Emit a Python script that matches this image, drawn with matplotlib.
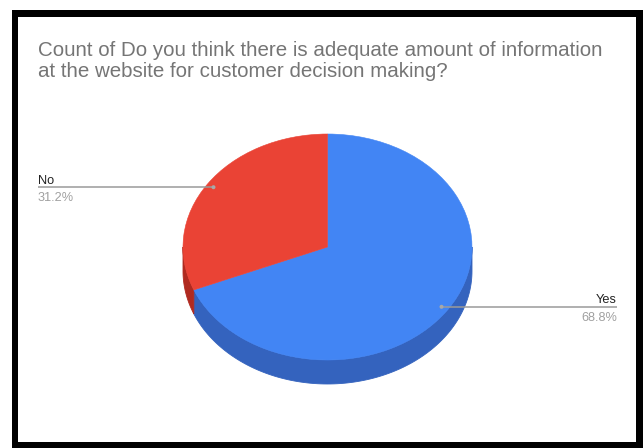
import numpy as np
import matplotlib
matplotlib.use("Agg")
import matplotlib.pyplot as plt
from matplotlib.patches import Wedge, Polygon, Rectangle, Circle
from matplotlib.transforms import Affine2D

# ---- data ----
title_lines = [
    "Count of Do you think there is adequate amount of information",
    "at the website for customer decision making?",
]
categories = ["Yes", "No"]
shares = [68.8, 31.2]
top_colors = ["#4285F4", "#EA4335"]
side_colors = ["#3463BE", "#B02A20"]

# ---- canvas (pixel coordinates, y down) ----
W, H = 643, 448
fig = plt.figure(figsize=(W / 100, H / 100), dpi=100)
ax = fig.add_axes([0, 0, 1, 1])
ax.set_xlim(0, W)
ax.set_ylim(H, 0)
ax.axis("off")

# black frame around the chart card
ax.add_patch(Rectangle((12, 10), W, H, facecolor="black", edgecolor="none", zorder=0))
ax.add_patch(Rectangle((18, 17), 636 - 18, 442 - 17, facecolor="white",
                       edgecolor="none", zorder=0.5))

FONT = "Liberation Sans"

# title
for txt, base in zip(title_lines, [56, 77]):
    ax.text(38, base, txt, fontsize=14.8, color="#757575", family=FONT,
            ha="left", va="baseline", zorder=5)

# ---- tilted pie geometry ----
cx, cy = 327.5, 247.0
rx, ry = 144.5, 113.0
depth = 24.0
unit_to_px = Affine2D().scale(rx, -ry).translate(cx, cy) + ax.transData

# slice angle ranges: start at 12 o'clock, go clockwise
ranges = []
start = 90.0
for s in shares:
    end = start - 360.0 * s / 100.0
    ranges.append((end, start))
    start = end


def ellipse_pts(t_deg, dy=0.0):
    t = np.radians(t_deg)
    return np.column_stack([cx + rx * np.cos(t), cy - ry * np.sin(t) + dy])


# visible side walls (front half of the disc)
for (a, b), col in zip(ranges, side_colors):
    for k in (-360.0, 0.0, 360.0):
        lo, hi = max(a, -180.0 + k), min(b, 0.0 + k)
        if hi > lo:
            t = np.linspace(lo, hi, 120)
            top = ellipse_pts(t)
            bot = ellipse_pts(t[::-1], depth)
            ax.add_patch(Polygon(np.vstack([top, bot]), closed=True,
                                 facecolor=col, edgecolor=col, lw=0.6, zorder=2))

# top faces
for (a, b), col in zip(ranges, top_colors):
    ax.add_patch(Wedge((0, 0), 1.0, a, b, facecolor=col, edgecolor=col,
                       lw=0.4, transform=unit_to_px, zorder=3))

# ---- leader lines and labels ----
label_x = {"Yes": 617, "No": 38}
for cat, s, (a, b) in zip(categories, shares, ranges):
    mid = np.radians((a + b) / 2.0)
    px = cx + 0.95 * rx * np.cos(mid)
    py = cy - 0.95 * ry * np.sin(mid)
    lx = label_x[cat]
    ax.plot([px, lx], [py, py], color="#9a9a9a", lw=1.1, zorder=4,
            solid_capstyle="butt")
    ax.add_patch(Circle((px, py), 2.0, facecolor="#a8a8a8", edgecolor="none",
                        zorder=4.5))
    ha = "left" if lx < cx else "right"
    ax.text(lx, py - 3.5, cat, fontsize=9.2, color="#222222", family=FONT,
            ha=ha, va="baseline", zorder=5)
    ax.text(lx, py + 13.8, f"{s:.1f}%", fontsize=9.2, color="#a0a0a0",
            family=FONT, ha=ha, va="baseline", zorder=5)

fig.savefig("out.png", dpi=100, facecolor="white")
